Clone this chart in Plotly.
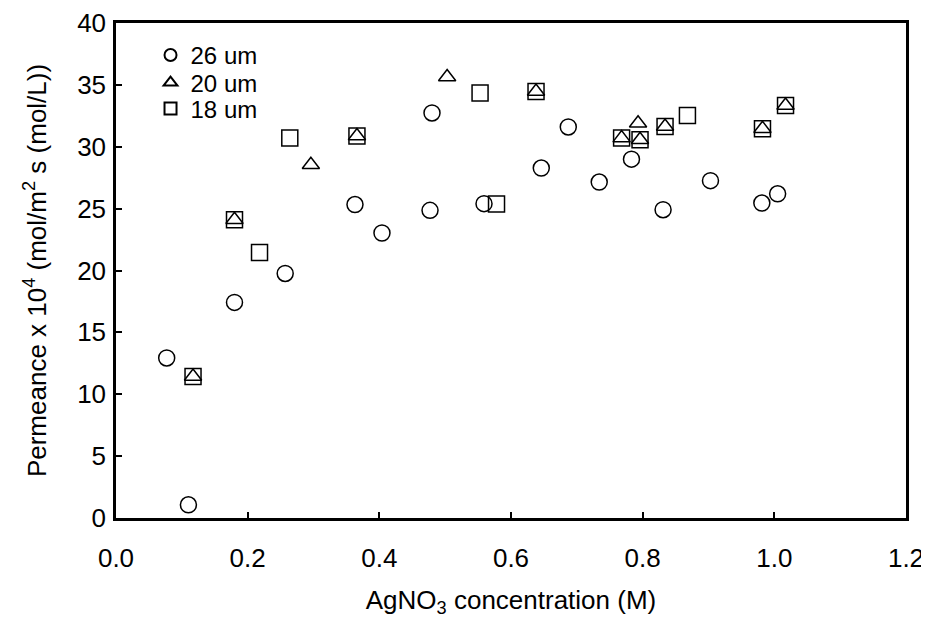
import plotly.graph_objects as go

# 26 um series
x26 = [0.077, 0.110, 0.180, 0.257, 0.363, 0.404, 0.477, 0.480, 0.559, 0.646, 0.687, 0.734, 0.783, 0.831, 0.903, 0.981, 1.005]
y26 = [12.93, 1.07, 17.42, 19.76, 25.33, 23.03, 24.86, 32.73, 25.40, 28.28, 31.60, 27.15, 29.00, 24.91, 27.26, 25.45, 26.20]

# 20 um series
x20 = [0.117, 0.180, 0.296, 0.366, 0.503, 0.638, 0.768, 0.793, 0.796, 0.834, 0.982, 1.017]
y20 = [11.44, 24.10, 28.55, 30.87, 35.64, 34.47, 30.70, 31.90, 30.57, 31.64, 31.46, 33.34]

# 18 um series
x18 = [0.117, 0.180, 0.218, 0.264, 0.366, 0.553, 0.578, 0.638, 0.768, 0.796, 0.834, 0.868, 0.982, 1.017]
y18 = [11.44, 24.10, 21.46, 30.70, 30.87, 34.34, 25.37, 34.47, 30.70, 30.57, 31.64, 32.53, 31.46, 33.34]

names = ["26 um", "20 um", "18 um"]
xticks = [0.0, 0.2, 0.4, 0.6, 0.8, 1.0, 1.2]
yticks = [0, 5, 10, 15, 20, 25, 30, 35, 40]

FONT = "Arial, Liberation Sans, sans-serif"

fig = go.Figure()
fig.add_trace(go.Scatter(x=x26, y=y26, mode="markers", name=names[0], legend="legend",
                         marker=dict(symbol="circle-open", size=16, color="black", line=dict(width=1.5))))
fig.add_trace(go.Scatter(x=x20, y=y20, mode="markers", name=names[1], legend="legend2",
                         marker=dict(symbol="triangle-up-open", size=15, color="black", line=dict(width=1.5))))
fig.add_trace(go.Scatter(x=x18, y=y18, mode="markers", name=names[2], legend="legend3",
                         marker=dict(symbol="square-open", size=16, color="black", line=dict(width=1.5))))

axis_common = dict(showgrid=False, zeroline=False, showline=True, linecolor="black", linewidth=2.5,
                   mirror=True, ticks="inside", ticklen=6, tickwidth=1.5, tickcolor="black",
                   automargin=False, ticklabeloverflow="allow",
                   tickfont=dict(family=FONT, size=26, color="black"))

fig.update_xaxes(range=[0, 1.2], tickvals=xticks, ticktext=[f"{v:.1f}" for v in xticks],
                 ticklabelstandoff=15,
                 title=dict(text="AgNO<sub>3</sub> concentration (M)", font=dict(family=FONT, size=26, color="black"), standoff=20),
                 **axis_common)
fig.update_yaxes(range=[0, 40], tickvals=yticks, ticktext=[str(v) for v in yticks],
                 ticklabelstandoff=2,
                 title=dict(text="Permeance x 10<sup>4</sup> (mol/m<sup>2</sup> s (mol/L))", font=dict(family=FONT, size=26, color="black"), standoff=24),
                 **axis_common)

legend_common = dict(x=0.0437, xanchor="left", yanchor="middle", bgcolor="rgba(0,0,0,0)",
                     itemsizing="constant", font=dict(family=FONT, size=24, color="black"),
                     tracegroupgap=0, itemwidth=30)

fig.update_layout(
    width=921, height=610,
    margin=dict(l=108, r=23, t=15, b=100),
    paper_bgcolor="white", plot_bgcolor="white",
    font=dict(family=FONT, size=26, color="black"),
    legend=dict(y=0.9345, **legend_common),
    legend2=dict(y=0.8788, **legend_common),
    legend3=dict(y=0.8263, **legend_common),
    showlegend=True,
)

fig.write_html("out.html")
